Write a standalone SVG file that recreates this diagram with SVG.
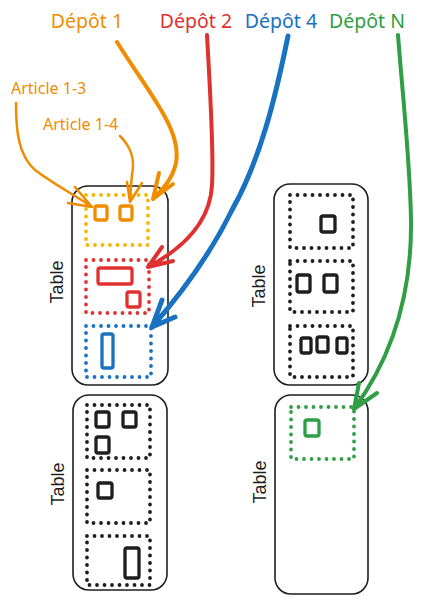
<svg xmlns="http://www.w3.org/2000/svg" width="422" height="608" viewBox="0 0 422 608">
<style>
.table{fill:none;stroke:#1e1e1e;stroke-width:1.6}
.dot{fill:none;stroke-width:3.8;stroke-dasharray:0 7.5;stroke-linecap:round;stroke-linejoin:round}
.item{fill:none;stroke-width:3.3;stroke-linejoin:round}
.tl{font-family:"Liberation Sans",Arial,sans-serif;font-size:18px;fill:#1e1e1e}
.title{font-family:"Noto Sans","Open Sans",sans-serif;font-size:19.5px;text-anchor:middle}
.art{font-family:"Noto Sans","Open Sans",sans-serif;font-size:16px;fill:#f08c00}
.c{fill:none;stroke-linecap:round;stroke-linejoin:round}
.o{stroke:#f08c00}.r{stroke:#e03131}.b{stroke:#1971c2}.g{stroke:#2f9e44}.k{stroke:#1e1e1e}.y{stroke:#f7b500}
</style>
<g id="labels">
<text class="title" x="87" y="28" fill="#f08c00">Dépôt 1</text>
<text class="title" x="196" y="28" fill="#e03131">Dépôt 2</text>
<text class="title" x="281" y="28" fill="#1971c2">Dépôt 4</text>
<text class="title" x="367" y="28" fill="#2f9e44">Dépôt N</text>
<text class="art" x="11" y="94">Article 1-3</text>
<text class="art" x="43" y="130">Article 1-4</text>
</g>
<g id="table1">
<rect class="table" x="72" y="186" width="96" height="199" rx="16"/>
<text class="tl" transform="translate(63,282) rotate(-90)" text-anchor="middle">Table</text>
<rect class="dot y" x="86" y="195" width="62" height="50"/>
<rect class="item o" x="95" y="206" width="12" height="14" rx="2"/>
<rect class="item o" x="120" y="206" width="12" height="14" rx="2"/>
<rect class="dot r" x="86" y="260" width="63" height="53"/>
<rect class="item r" x="98" y="268" width="34" height="16" rx="2"/>
<rect class="item r" x="127" y="292" width="13" height="15" rx="2"/>
<rect class="dot b" x="86" y="326" width="65" height="51"/>
<rect class="item b" x="102" y="334" width="11" height="34" rx="2"/>
</g>
<g id="table2">
<rect class="table" x="274" y="184" width="94" height="201" rx="16"/>
<text class="tl" transform="translate(265,286) rotate(-90)" text-anchor="middle">Table</text>
<rect class="dot k" x="290" y="195" width="63" height="53"/>
<rect class="item k" x="321" y="216" width="14" height="16" rx="2"/>
<rect class="dot k" x="290" y="261" width="63" height="51"/>
<rect class="item k" x="297" y="275" width="13" height="17" rx="2"/>
<rect class="item k" x="324" y="275" width="13" height="17" rx="2"/>
<rect class="dot k" x="290" y="326" width="63" height="51"/>
<rect class="item k" x="301" y="338" width="10" height="15" rx="2"/>
<rect class="item k" x="317" y="337" width="11" height="15" rx="2"/>
<rect class="item k" x="337" y="338" width="10" height="15" rx="2"/>
</g>
<g id="table3">
<rect class="table" x="73" y="395" width="94" height="195" rx="16"/>
<text class="tl" transform="translate(64,484) rotate(-90)" text-anchor="middle">Table</text>
<rect class="dot k" x="87" y="405" width="63" height="53"/>
<rect class="item k" x="96" y="412" width="13" height="15" rx="2"/>
<rect class="item k" x="123" y="412" width="13" height="15" rx="2"/>
<rect class="item k" x="96" y="437" width="13" height="16" rx="2"/>
<rect class="dot k" x="87" y="470" width="63" height="53"/>
<rect class="item k" x="98" y="483" width="14" height="15" rx="2"/>
<rect class="dot k" x="87" y="536" width="63" height="49"/>
<rect class="item k" x="125" y="548" width="14" height="30" rx="2"/>
</g>
<g id="table4">
<rect class="table" x="275" y="395" width="93" height="199" rx="16"/>
<text class="tl" transform="translate(266,482) rotate(-90)" text-anchor="middle">Table</text>
<rect class="dot g" x="291" y="407" width="63" height="52"/>
<rect class="item g" x="305" y="420" width="14" height="16" rx="2"/>
</g>
<g id="connectors">
<path class="c o" stroke-width="4" d="M117,42 C150,95 182,130 176,163 C172,180 162,190 153,199 M159,173 L153,199 L173,184"/>
<path class="c o" stroke-width="2.5" d="M16,103 C16,130 18,155 35,170 C55,185 75,195 92,207 M75,187 L92,207 L68,203"/>
<path class="c o" stroke-width="2.5" d="M120,136 C132,148 135,160 132,175 C131,185 130,195 130,202 M127,182 L130,202 L142,183"/>
<path class="c r" stroke-width="4" d="M207,35 C210,90 214,150 212,185 C210,225 180,250 148,267 M162,247 L148,267 L173,261"/>
<path class="c b" stroke-width="5" d="M288,36 C275,100 260,160 232,210 C210,255 180,295 152,327 M162,300 L152,327 L175,317"/>
<path class="c g" stroke-width="4" d="M398,35 C403,100 410,160 411,220 C412,300 390,360 354,409 M359,383 L354,409 L377,393"/>
</g>
</svg>
